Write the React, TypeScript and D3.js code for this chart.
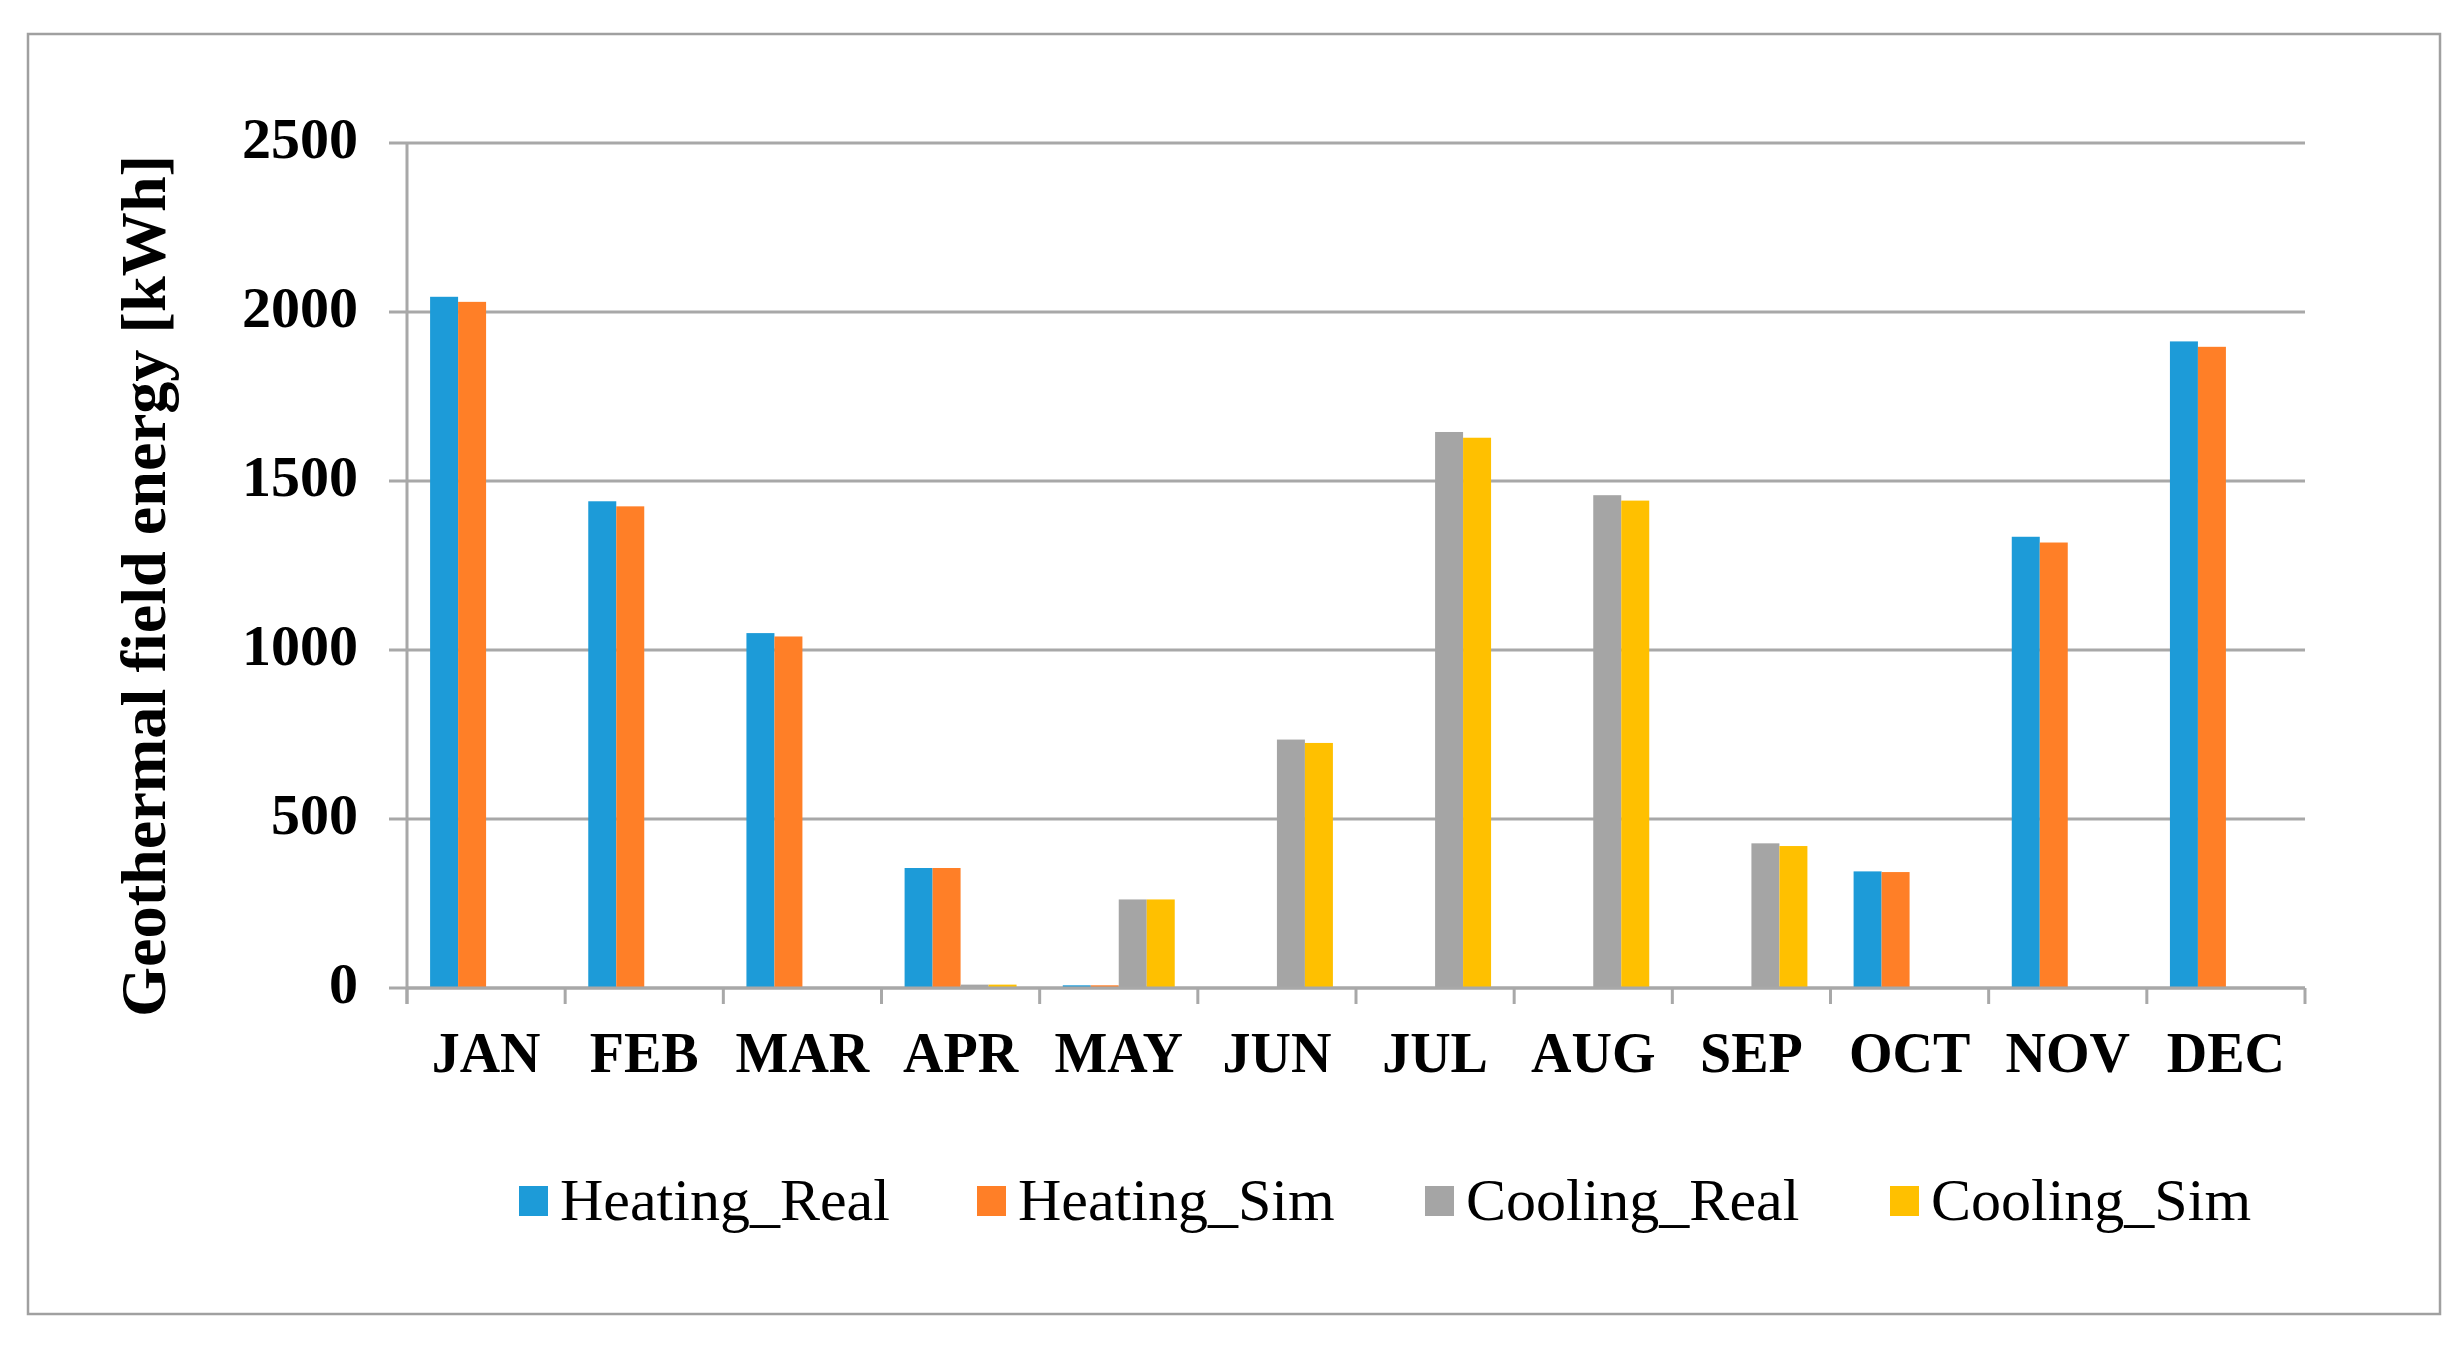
import React from "react";
import { scaleBand, scaleLinear } from "d3";

// data
const months = ["JAN", "FEB", "MAR", "APR", "MAY", "JUN", "JUL", "AUG", "SEP", "OCT", "NOV", "DEC"];
const seriesNames = ["Heating_Real", "Heating_Sim", "Cooling_Real", "Cooling_Sim"];
const heatingReal = [2045, 1440, 1050, 355, 8, 0, 0, 0, 0, 345, 1335, 1913];
const heatingSim = [2030, 1425, 1040, 355, 8, 0, 0, 0, 0, 343, 1318, 1897];
const coolingReal = [0, 0, 0, 10, 262, 735, 1645, 1458, 428, 0, 0, 0];
const coolingSim = [0, 0, 0, 10, 262, 725, 1628, 1442, 420, 0, 0, 0];
const yTicks = [0, 500, 1000, 1500, 2000, 2500];

const seriesValues = [heatingReal, heatingSim, coolingReal, coolingSim];
const colors = ["#1D9BD8", "#FF7F27", "#A5A5A5", "#FFC000"];

const W = 2464;
const H = 1349;
const plot = { left: 407, right: 2305, top: 143, bottom: 988 };
const font = "'Liberation Serif', 'Times New Roman', serif";
const gridColor = "#A8A8A8";

// legend layout
const legendX = [519, 977, 1425, 1890];
const legendY = 1186;

const App: React.FC = () => {
  const x0 = scaleBand<string>().domain(months).range([plot.left, plot.right]).paddingInner(0).paddingOuter(0);
  const x1 = scaleBand<string>()
    .domain(seriesNames)
    .range([0, x0.bandwidth()])
    .paddingInner(0)
    .paddingOuter(0.825);
  const y = scaleLinear().domain([0, 2500]).range([plot.bottom, plot.top]);

  const boundaries = [...months.map((m) => x0(m)!), plot.right];

  return (
    <div style={{ position: "absolute", left: 0, top: 0 }}>
      <svg width={W} height={H} viewBox={`0 0 ${W} ${H}`} style={{ display: "block", background: "#fff" }}>
        <rect x={0} y={0} width={W} height={H} fill="#fff" />
        {/* chart frame */}
        <rect x={28} y={34} width={2412} height={1280} fill="none" stroke="#A0A0A0" strokeWidth={2.5} />

        {/* gridlines + y ticks */}
        {yTicks.map((t) => (
          <g key={t}>
            <line x1={plot.left - 18} x2={plot.right} y1={y(t)} y2={y(t)} stroke={gridColor} strokeWidth={3} />
            <text
              x={358}
              y={y(t) + 15}
              textAnchor="end"
              fontFamily={font}
              fontWeight="bold"
              fontSize={58}
              fill="#000"
            >
              {t}
            </text>
          </g>
        ))}

        {/* y axis line */}
        <line x1={plot.left} x2={plot.left} y1={plot.top} y2={plot.bottom + 16} stroke={gridColor} strokeWidth={3} />

        {/* bars */}
        {months.map((m, i) => (
          <g key={m} transform={`translate(${x0(m)},0)`}>
            {seriesNames.map((s, j) => {
              const v = seriesValues[j][i];
              if (!v) return null;
              return (
                <rect
                  key={s}
                  x={x1(s)}
                  y={y(v)}
                  width={x1.bandwidth()}
                  height={y(0) - y(v)}
                  fill={colors[j]}
                />
              );
            })}
          </g>
        ))}

        {/* x axis */}
        <line x1={plot.left} x2={plot.right} y1={y(0)} y2={y(0)} stroke={gridColor} strokeWidth={3} />
        {boundaries.map((bx, i) => (
          <line key={i} x1={bx} x2={bx} y1={y(0)} y2={y(0) + 16} stroke={gridColor} strokeWidth={3} />
        ))}
        {months.map((m) => (
          <text
            key={m}
            x={x0(m)! + x0.bandwidth() / 2}
            y={1072}
            textAnchor="middle"
            fontFamily={font}
            fontWeight="bold"
            fontSize={56}
            fill="#000"
          >
            {m}
          </text>
        ))}

        {/* y axis title */}
        <text
          transform="translate(165,586) rotate(-90)"
          textAnchor="middle"
          fontFamily={font}
          fontWeight="bold"
          fontSize={64}
          textLength={862}
          lengthAdjust="spacingAndGlyphs"
          fill="#000"
        >
          Geothermal field energy [kWh]
        </text>

        {/* legend */}
        {seriesNames.map((s, j) => (
          <g key={s} transform={`translate(${legendX[j]},${legendY})`}>
            <rect x={0} y={0} width={29} height={30} fill={colors[j]} />
            <text x={41} y={34} fontFamily={font} fontSize={60} fill="#000">
              {s}
            </text>
          </g>
        ))}
      </svg>
    </div>
  );
};

export default App;
